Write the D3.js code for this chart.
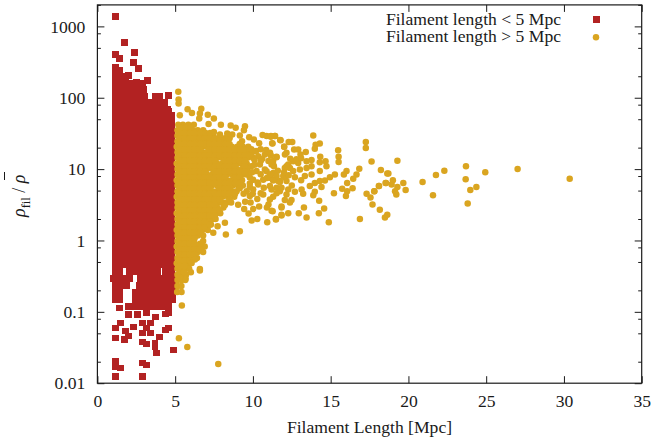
<!DOCTYPE html>
<html>
  <head>
    <meta charset="utf-8">
    <title>Filament density</title>
    <script src="https://d3js.org/d3.v7.min.js"></script>
    <style>
      html, body { margin: 0; padding: 0; background: #fff; }
      text { font-family: "Liberation Serif", serif; fill: #1a1a1a; }
    </style>
  </head>
  <body>
    <script>
        var xTicks = [0, 5, 10, 15, 20, 25, 30, 35];
        var yTicks = [0.01, 0.1, 1, 10, 100, 1000];
        var yTickLabels = ["0.01", "0.1", "1", "10", "100", "1000"];
        var yMinorFactors = [2, 5, 8];
        var legendLabels = ["Filament length < 5 Mpc", "Filament length > 5 Mpc"];

        // short filaments, the solid block: one density per row, lengths in that row
        var redRowDensity = [270, 243, 197, 160, 130, 105, 85, 69, 56, 45.6, 37, 30, 24.3, 19.7, 16, 13, 10.5, 8.55, 6.9, 5.6, 4.56, 3.7, 3, 2.43, 1.97, 1.6, 1.3, 1.05, 0.855, 0.693, 0.562, 0.456, 0.37, 0.295, 0.235, 0.187, 0.149, 0.118];
        var redRowLengths = [
            [1.17],
            [1.17, 1.45],
            [1.15, 1.5, 1.8],
            [1.15, 1.5, 1.9, 2.25, 2.55, 2.9],
            [1.15, 1.55, 1.95, 2.3, 2.7, 3.0],
            [1.15, 1.55, 1.95, 2.35, 2.7, 3.05, 3.76, 4.02],
            [1.15, 1.55, 1.95, 2.35, 2.75, 3.15, 3.55, 3.95, 4.3],
            [1.15, 1.55, 1.95, 2.35, 2.75, 3.15, 3.55, 3.95, 4.35, 4.5],
            [1.16, 1.56, 1.96, 2.36, 2.76, 3.16, 3.56, 3.96, 4.36, 4.75],
            [1.15, 1.55, 1.95, 2.35, 2.75, 3.15, 3.55, 3.95, 4.35, 4.75],
            [1.17, 1.57, 1.97, 2.37, 2.77, 3.17, 3.57, 3.97, 4.37, 4.76],
            [1.15, 1.55, 1.94, 2.34, 2.74, 3.14, 3.54, 3.94, 4.34, 4.74],
            [1.16, 1.56, 1.96, 2.36, 2.76, 3.16, 3.56, 3.96, 4.36, 4.75],
            [1.15, 1.55, 1.95, 2.35, 2.75, 3.15, 3.55, 3.95, 4.35, 4.75],
            [1.17, 1.56, 1.95, 2.36, 2.77, 3.16, 3.55, 3.96, 4.37, 4.76],
            [1.15, 1.55, 1.95, 2.35, 2.75, 3.15, 3.55, 3.95, 4.35, 4.75],
            [1.16, 1.57, 1.96, 2.35, 2.76, 3.17, 3.56, 3.95, 4.36, 4.77],
            [1.15, 1.54, 1.95, 2.36, 2.75, 3.14, 3.55, 3.96, 4.35, 4.74],
            [1.17, 1.56, 1.96, 2.35, 2.76, 3.15, 3.56, 3.95, 4.36, 4.75],
            [1.15, 1.55, 1.95, 2.35, 2.75, 3.15, 3.55, 3.95, 4.35, 4.75],
            [1.16, 1.56, 1.94, 2.36, 2.74, 3.16, 3.54, 3.96, 4.34, 4.76],
            [1.15, 1.55, 1.95, 2.35, 2.75, 3.15, 3.55, 3.95, 4.35, 4.75],
            [1.17, 1.57, 1.96, 2.37, 2.76, 3.17, 3.56, 3.97, 4.36, 4.77],
            [1.15, 1.55, 1.95, 2.35, 2.75, 3.15, 3.55, 3.95, 4.35, 4.75],
            [1.16, 1.55, 1.96, 2.35, 2.76, 3.15, 3.56, 3.95, 4.36, 4.75],
            [1.15, 1.56, 1.95, 2.36, 2.75, 3.16, 3.55, 3.96, 4.35, 4.76],
            [1.17, 1.55, 1.94, 2.35, 2.74, 3.15, 3.54, 3.95, 4.34, 4.75],
            [1.15, 1.57, 1.96, 2.37, 2.76, 3.17, 3.56, 3.97, 4.36, 4.77],
            [1.16, 1.55, 1.95, 2.35, 2.75, 3.15, 3.55, 3.95, 4.35, 4.75],
            [1.15, 1.56, 1.95, 2.36, 2.75, 3.16, 3.55, 3.96, 4.35, 4.76],
            [1.15, 1.55, 1.95, 2.35, 2.75, 3.15, 3.55, 3.95, 4.35, 4.75],
            [1.15, 1.55, 1.95, 2.35, 2.75, 3.15, 3.55, 3.95, 4.35, 4.75],
            [1.15, 1.4, 2.05, 2.4, 2.75, 3.1, 3.5, 3.9, 4.35, 4.75],
            [1.0, 1.35, 1.75, 2.05, 2.75, 3.15, 3.5, 3.8, 4.2, 4.6, 4.85],
            [1.15, 1.45, 1.85, 2.7, 3.05, 3.4, 3.7, 4.0, 4.3, 4.6, 4.85],
            [1.15, 1.45, 2.45, 2.8, 3.2, 3.5, 3.85, 4.2, 4.55, 4.85],
            [1.15, 1.45, 2.45, 2.8, 3.1, 3.5, 3.9, 4.2, 4.6, 4.85],
            [2.0, 2.3, 2.7, 3.0, 3.3, 3.6, 4.0, 4.3, 4.6]
        ];
        // short filaments outside the block: [length, density]
        var redSparse = [
            [1.17, 1368], [1.75, 590], [2.39, 427], [1.17, 401], [1.4, 359], [2.3, 309], [2.62, 257], [1.98, 203],
            [3.2, 173], [2.52, 162], [4.55, 107], [4.6, 65],
            [1.15, 0.0125], [2.88, 0.0125], [1.15, 0.0202], [1.15, 0.0172], [1.47, 0.0163], [2.88, 0.0192], [3.14, 0.018],
            [4.88, 0.0292], [3.78, 0.0265], [3.7, 0.0366], [3.7, 0.0322], [3.98, 0.0445], [2.88, 0.0378], [3.14, 0.0355],
            [1.15, 0.043], [1.72, 0.0407], [1.98, 0.0459], [2.88, 0.0506], [3.4, 0.0506], [1.79, 0.054], [1.15, 0.0594],
            [1.47, 0.0698], [2.3, 0.0614], [2.88, 0.0698], [3.4, 0.0698], [3.14, 0.0594], [4.55, 0.0594], [4.36, 0.0557],
            [3.72, 0.0847], [1.98, 0.0906], [2.56, 0.0906], [1.4, 0.1135], [3.14, 0.0966], [4.36, 0.0933], [4.55, 0.0966]
        ];

        // long filaments, dense part: same layout as the red rows
        var goldRowDensity = [42, 35, 29.4, 24.6, 20.6, 17.2, 14.4, 12, 10, 8.4, 7, 5.9, 4.9, 4.1, 3.4, 2.9, 2.4, 2, 1.67, 1.4, 1.17, 0.98, 0.82, 0.69, 0.57, 0.48, 0.4, 0.33, 0.28, 0.23, 0.19];
        var goldRowLengths = [
            [5.2, 5.5, 5.85, 6.2],
            [5.15, 5.5, 5.8, 6.1, 6.45, 6.8],
            [5.15, 5.45, 5.8, 6.1, 6.4, 6.75, 7.05, 7.45],
            [5.15, 5.45, 5.8, 6.1, 6.4, 6.75, 7.05, 7.4, 7.7, 8.0, 8.35, 9.3],
            [5.1, 5.45, 5.8, 6.1, 6.4, 6.75, 7.05, 7.4, 7.7, 8.05, 8.35, 8.65, 9.0, 9.35, 9.7],
            [5.15, 5.45, 5.8, 6.1, 6.45, 6.75, 7.05, 7.4, 7.7, 8.0, 8.35, 8.65, 9.0, 9.3, 9.6, 9.95],
            [5.15, 5.5, 5.8, 6.1, 6.4, 6.75, 7.1, 7.4, 7.7, 8.0, 8.3, 8.65, 9.0, 9.3, 9.65, 10.0],
            [5.1, 5.45, 5.75, 6.1, 6.4, 6.75, 7.05, 7.35, 7.7, 8.05, 8.35, 8.7, 9.0, 9.3, 9.6],
            [5.15, 5.45, 5.8, 6.1, 6.45, 6.75, 7.05, 7.4, 7.7, 8.0, 8.35, 8.65, 8.95, 9.3, 9.65],
            [5.15, 5.5, 5.8, 6.15, 6.4, 6.7, 7.05, 7.4, 7.75, 8.0, 8.3, 8.65, 9.0, 9.35, 9.6],
            [5.1, 5.45, 5.8, 6.1, 6.45, 6.75, 7.1, 7.4, 7.7, 8.05, 8.35, 8.65, 9.0, 9.3],
            [5.15, 5.45, 5.8, 6.1, 6.4, 6.75, 7.05, 7.35, 7.7, 8.0, 8.35, 8.7, 9.05, 9.35],
            [5.15, 5.5, 5.75, 6.1, 6.4, 6.75, 7.05, 7.4, 7.7, 8.0, 8.3, 8.65, 8.95, 9.6],
            [5.1, 5.45, 5.8, 6.15, 6.45, 6.75, 7.05, 7.4, 7.7, 8.05, 8.4, 8.8],
            [5.15, 5.45, 5.8, 6.1, 6.4, 6.7, 7.05, 7.4, 7.75, 8.0, 8.3, 8.6],
            [5.15, 5.5, 5.8, 6.1, 6.45, 6.75, 7.1, 7.4, 7.7, 8.1],
            [5.1, 5.45, 5.75, 6.1, 6.4, 6.75, 7.05, 7.35, 7.65, 7.9],
            [5.15, 5.45, 5.8, 6.15, 6.4, 6.75, 7.05, 7.4, 7.6],
            [5.15, 5.5, 5.8, 6.1, 6.45, 6.7, 7.0, 7.3],
            [5.1, 5.45, 5.8, 6.1, 6.4, 6.75, 7.1],
            [5.15, 5.45, 5.75, 6.1, 6.45, 6.8],
            [5.15, 5.5, 5.8, 6.15, 6.8],
            [5.1, 5.45, 5.8, 6.1, 6.4, 6.7, 6.9],
            [5.15, 5.45, 5.75, 6.1, 6.45, 6.8],
            [5.15, 5.5, 5.8, 6.1, 6.4],
            [5.1, 5.45, 5.75, 6.0],
            [5.15, 5.45, 5.7, 5.9],
            [5.15, 5.45, 5.7],
            [5.15, 5.4, 5.65],
            [5.15, 5.4],
            [5.13, 5.41]
        ];
        // long filaments between those rows, they close the gaps in the solid area
        var goldFillDensity = [38, 32, 27, 22.5, 18.8, 15.7, 13.1, 11, 9.2, 7.7, 6.4, 5.4, 4.5, 3.75, 3.15, 2.65, 2.2, 1.83, 1.53, 1.28, 1.07, 0.9, 0.75, 0.63, 0.52, 0.44, 0.36];
        var goldFillLengths = [
            [5.3, 5.65, 6.0],
            [5.3, 5.6, 5.95, 6.25, 6.6, 6.95, 7.25],
            [5.3, 5.6, 5.95, 6.25, 6.6, 6.9, 7.2, 7.55, 7.85, 8.2, 8.5],
            [5.3, 5.6, 5.95, 6.25, 6.6, 6.9, 7.2, 7.55, 7.85, 8.2, 8.5, 9.15],
            [5.3, 5.6, 5.95, 6.25, 6.6, 7.2, 7.55, 7.85, 8.2, 8.5, 8.85, 9.15, 9.45, 9.8],
            [5.3, 5.6, 5.95, 6.25, 6.6, 6.9, 7.2, 7.55, 7.85, 8.2, 8.5, 8.85, 9.15, 9.45, 9.8],
            [5.3, 5.6, 5.95, 6.25, 6.6, 6.9, 7.2, 7.55, 8.2, 8.5, 8.85, 9.15, 9.45],
            [5.3, 5.6, 5.95, 6.25, 6.6, 6.9, 7.2, 7.55, 7.85, 8.2, 8.5, 8.85, 9.45],
            [5.3, 5.6, 5.95, 6.25, 6.6, 6.9, 7.55, 7.85, 8.2, 8.5, 8.85, 9.15, 9.45],
            [5.3, 5.6, 5.95, 6.25, 6.6, 6.9, 7.2, 7.55, 7.85, 8.2, 8.85, 9.15],
            [5.3, 5.6, 5.95, 6.25, 6.6, 6.9, 7.2, 7.55, 7.85, 8.2, 8.5, 8.85, 9.15],
            [5.3, 5.6, 5.95, 6.25, 6.6, 6.9, 7.2, 7.85, 8.2, 8.5, 9.15],
            [5.3, 5.6, 5.95, 6.25, 6.6, 6.9, 7.2, 7.55, 7.85, 8.2, 8.5, 8.85],
            [5.3, 5.6, 5.95, 6.25, 6.6, 6.9, 7.2, 7.55, 7.85, 8.5],
            [5.3, 5.6, 5.95, 6.25, 6.6, 6.9, 7.2, 7.55, 8.2],
            [5.3, 5.6, 5.95, 6.25, 6.6, 6.9, 7.2, 7.55, 7.85],
            [5.3, 5.6, 5.95, 6.25, 6.6, 6.9, 7.2, 7.55],
            [5.3, 5.6, 5.95, 6.25, 6.6, 6.9, 7.2],
            [5.3, 5.6, 5.95, 6.25, 6.6, 6.9],
            [5.3, 5.6, 5.95, 6.25, 6.6],
            [5.3, 5.6, 5.95, 6.25],
            [5.3, 5.6, 5.95, 6.25, 6.6],
            [5.3, 5.6, 5.95, 6.25, 6.6],
            [5.3, 5.6, 5.95, 6.25],
            [5.3, 5.6, 5.95],
            [5.3, 5.6],
            [5.3, 5.55]
        ];
        // long filaments outside the dense part: [length, density]
        var goldSparse = [
            [5.2, 121], [5.22, 94.6], [5.22, 83], [5.8, 69], [6.08, 61], [6.68, 70], [6.59, 60], [6.55, 51], [7.1, 58], [7.49, 51],
            [7.94, 42], [8.57, 41], [8.89, 38], [9.49, 40], [9.42, 35], [10.62, 30], [10.88, 29], [11.16, 29], [11.43, 29],
            [11.78, 25.4], [11.24, 23], [12.01, 20.6], [12.3, 24], [7.15, 43], [5.3, 57], [7.49, 33], [7.88, 30.5], [8.35, 31.6],
            [8.67, 30.5], [9.16, 29.6], [9.76, 28], [10.06, 26], [10.4, 23],
            [6.59, 0.398], [9.16, 1.35], [8.26, 1.21], [8.2, 1.77], [10.92, 1.8], [11.48, 1.96], [11.84, 2.24], [11.27, 2.57],
            [9.92, 1.9], [10.28, 2.0], [9.72, 2.38], [10.02, 2.77], [9.44, 2.77], [9.05, 3.16], [7.45, 1.28], [7.73, 1.58], [7.23, 1.66],
            [6.27, 0.54], [6.06, 0.485], [5.43, 0.123], [5.24, 0.0425], [5.78, 0.0322], [7.77, 0.0186], [6.59, 0.378], [6.01, 0.358],
            [5.67, 0.29], [5.3, 0.3],
            [13.88, 29.6], [11.41, 29], [11.15, 28.4], [11.75, 25.5], [11.26, 22.8], [12.53, 23.9], [14.3, 22.8], [14.03, 22],
            [17.26, 23.9], [17.26, 19.7], [15.48, 18.4], [13.98, 19.3], [12.01, 20.5], [12.65, 18.9], [13.4, 17.3], [12.91, 18.9],
            [12.16, 16.9], [11.52, 14.9], [11.15, 15.5], [13.06, 16], [15.51, 14.9], [15.51, 12.6], [14.33, 14.9], [14.3, 12.5],
            [14.67, 12.9], [14.73, 11], [17.63, 12.8], [13.77, 13.4], [13.45, 12.9], [12.59, 12.9], [12.91, 12.2], [12.27, 11.6],
            [12.05, 10.4], [12.38, 10.4], [12.59, 9.4], [13.02, 9.9], [13.45, 10.4], [13.77, 11], [11.2, 11.6], [11.35, 11],
            [16.84, 10.1], [18.23, 9.7], [18.64, 8.7], [16.02, 9.4], [15.85, 8.4], [15.27, 8.4], [14.95, 7.7], [14.3, 9.4],
            [13.77, 8.4], [13.34, 8], [16.66, 8.4], [16.45, 7.3], [16.06, 6.4], [14.63, 6.9], [14.3, 6.8], [13.98, 6.4], [14.41, 5.6],
            [13.66, 5.8], [12.16, 6.8], [11.73, 6.8], [11.41, 7.2], [11.15, 7.5], [11.52, 5.5], [12.27, 5.2], [12.7, 4.8], [13.13, 5.2],
            [13.23, 4.5], [13.98, 4.8], [13.88, 4.3], [15.21, 4.6], [15.74, 5.3], [16.06, 4.9], [16.41, 5.4], [15.98, 4.2], [17.31, 4.5],
            [17.56, 4], [17.8, 4.9], [18.1, 5.8], [18.53, 6.4], [17.69, 3.2], [18.16, 2.7], [18.64, 2.3], [18.49, 2.1], [16.88, 2],
            [14.88, 1.8], [14.26, 3.6], [14.58, 2.8], [14.24, 2.4], [13.45, 2.1], [13.28, 2.9], [12.95, 2.4], [12.38, 3.4], [11.84, 2.9],
            [11.84, 2.3], [11.48, 2], [11.2, 2.6], [12.05, 3.7], [12.48, 3.7], [11.3, 4.1], [11.73, 4.9], [11.2, 5.2],
            [19.29, 13.06], [19.67, 6.4], [19.82, 5.1], [19.14, 4.9], [19.22, 4.4], [19.29, 5.6], [19, 7], [18.92, 6.1], [18.56, 6.4],
            [18.11, 5.8], [17.81, 4.9], [18.71, 8.7], [20.91, 6.6], [21.58, 4.3], [21.77, 8.3], [22.31, 9.5], [23.7, 11], [23.68, 7.2],
            [24.94, 9.05], [24.37, 5.6], [23.98, 5.1], [23.81, 3.3], [27.02, 10], [30.37, 7.3],
            [11.09, 3.75], [10.66, 4.4], [10.28, 3.8], [9.8, 4.2], [11.52, 4.6], [11.84, 5.5], [12.16, 4.4], [11.09, 5.8], [10.34, 6.1],
            [10.02, 5.2], [11.63, 6.8], [10.66, 7.1], [10.02, 7.1], [11.3, 8.8], [11.95, 8], [10.88, 9.3], [11.84, 3], [12.27, 2.4],
            [11.52, 14.7], [12.06, 16], [12.16, 11], [11.3, 11.6], [10.77, 16], [10.34, 15.2], [10.45, 11.6], [10.77, 9.9],
            [11.52, 8], [11.09, 8.4], [12.06, 7.6], [10.23, 9.4], [11.73, 6.6], [9.8, 7.6], [9.9, 11], [10.1, 13.5], [10.5, 13],
            [9.9, 19], [10.2, 18], [10.5, 19], [10.85, 18.5], [11.1, 17], [10.6, 14], [11, 13], [11.3, 13], [10.1, 11.5], [9.95, 9],
            [10.5, 8.5], [10.9, 7.5], [10.3, 6.5], [10.7, 5.5], [11.3, 6.9], [9.8, 5.6], [10, 4.5], [10.5, 4.6], [11, 3.2], [9.85, 3.4],
            [10.4, 3], [10.9, 2.9], [9.5, 3.5], [9.4, 4.5], [9.8, 6.3], [12.4, 14], [12.8, 13.8], [13.1, 14.2], [12.3, 8.2], [12.7, 7.7],
            [13.1, 7], [11.6, 9.5], [12, 9], [12.5, 5.9]
        ];

        var width = 652;
        var height = 441;
        var svg = d3.select("body").append("svg")
            .attr("width", width)
            .attr("height", height)
            .style("display", "block")
        ;

        var xScale = d3.scaleLinear().domain([0, 35]).range([97.4, 641.7]);
        var yScale = d3.scaleLog().domain([0.01, 2000]).range([383.2, 4.9]);

        function flatten(rowDensity, rowLengths) {
            var points = [];
            rowDensity.forEach((d, i) => {
                rowLengths[i].forEach((l) => { points.push([l, d]); });
            });
            return points;
        }
        var redPoints = flatten(redRowDensity, redRowLengths).concat(redSparse);
        var goldPoints = flatten(goldRowDensity, goldRowLengths)
            .concat(flatten(goldFillDensity, goldFillLengths))
            .concat(goldSparse);

        var red = "#b22222";
        var gold = "#daa520";
        var ink = "#1a1a1a";
        var squareSize = 6.8;
        var dotRadius = 3.25;

        svg.selectAll("rect.short")
            .data(redPoints)
            .enter()
            .append("rect")
            .classed("short", true)
            .attr("x", (d) => { return xScale(d[0]) - squareSize / 2; })
            .attr("y", (d) => { return yScale(d[1]) - squareSize / 2; })
            .attr("width", squareSize)
            .attr("height", squareSize)
            .attr("fill", red)
            .attr("shape-rendering", "crispEdges")
        ;
        svg.selectAll("circle.long")
            .data(goldPoints)
            .enter()
            .append("circle")
            .classed("long", true)
            .attr("cx", (d) => { return xScale(d[0]); })
            .attr("cy", (d) => { return yScale(d[1]); })
            .attr("r", dotRadius)
            .attr("fill", gold)
        ;

        // axes: ticks point inwards on all four sides, frame drawn by hand
        var yMinor = [];
        yTicks.forEach((t) => {
            yMinorFactors.forEach((f) => {
                if (t * f <= 2000) yMinor.push(t * f);
            });
        });

        function styleAxis(g) {
            g.select(".domain").remove();
            g.selectAll("line").attr("stroke", ink).attr("stroke-width", 1);
            g.selectAll("text").attr("font-size", 17.6).style("fill", ink);
        }

        svg.append("g")
            .attr("transform", "translate(0," + yScale.range()[0] + ")")
            .call(d3.axisBottom(xScale).tickValues(xTicks).tickFormat(d3.format("d")).tickSizeInner(-7).tickPadding(11.5))
            .call(styleAxis)
        ;
        svg.append("g")
            .attr("transform", "translate(0," + yScale.range()[1] + ")")
            .call(d3.axisTop(xScale).tickValues(xTicks).tickFormat("").tickSizeInner(-7))
            .call(styleAxis)
        ;
        svg.append("g")
            .attr("transform", "translate(" + xScale.range()[0] + ",0)")
            .call(d3.axisLeft(yScale).tickValues(yTicks).tickFormat((d, i) => { return yTickLabels[i]; }).tickSizeInner(-7).tickPadding(12))
            .call(styleAxis)
        ;
        svg.append("g")
            .attr("transform", "translate(" + xScale.range()[1] + ",0)")
            .call(d3.axisRight(yScale).tickValues(yTicks).tickFormat("").tickSizeInner(-7))
            .call(styleAxis)
        ;
        svg.append("g")
            .attr("transform", "translate(" + xScale.range()[0] + ",0)")
            .call(d3.axisLeft(yScale).tickValues(yMinor).tickFormat("").tickSizeInner(-3.5))
            .call(styleAxis)
        ;
        svg.append("g")
            .attr("transform", "translate(" + xScale.range()[1] + ",0)")
            .call(d3.axisRight(yScale).tickValues(yMinor).tickFormat("").tickSizeInner(-3.5))
            .call(styleAxis)
        ;

        svg.append("rect")
            .attr("x", xScale.range()[0])
            .attr("y", yScale.range()[1])
            .attr("width", xScale.range()[1] - xScale.range()[0])
            .attr("height", yScale.range()[0] - yScale.range()[1])
            .attr("fill", "none")
            .attr("stroke", ink)
            .attr("stroke-width", 1.2)
        ;

        svg.append("text")
            .attr("x", 369.5)
            .attr("y", 433)
            .attr("text-anchor", "middle")
            .attr("font-size", 17.6)
            .text("Filament Length [Mpc]")
        ;

        // y title with subscript, the bar over the second rho is a short line
        var yTitle = svg.append("text")
            .attr("transform", "translate(25,217) rotate(-90)")
            .attr("font-size", 18)
        ;
        yTitle.append("tspan").attr("font-style", "italic").text("ρ");
        yTitle.append("tspan").attr("font-size", 12.5).attr("dy", 5).text("fil");
        yTitle.append("tspan").attr("dy", -5).text(" / ");
        yTitle.append("tspan").attr("font-style", "italic").text("ρ");
        svg.append("line")
            .attr("x1", 4.5)
            .attr("x2", 4.5)
            .attr("y1", 172)
            .attr("y2", 180)
            .attr("stroke", ink)
            .attr("stroke-width", 1)
        ;

        // legend, lines a little closer than the font height as in the original
        legendLabels.forEach((label, i) => {
            svg.append("text")
                .attr("x", 561)
                .attr("y", 25 + i * 17)
                .attr("text-anchor", "end")
                .attr("font-size", 17.6)
                .text(label)
            ;
        });
        svg.append("rect")
            .attr("x", 596.5 - squareSize / 2)
            .attr("y", 19.5 - squareSize / 2)
            .attr("width", squareSize)
            .attr("height", squareSize)
            .attr("fill", red)
            .attr("shape-rendering", "crispEdges")
        ;
        svg.append("circle")
            .attr("cx", 596)
            .attr("cy", 37.3)
            .attr("r", dotRadius)
            .attr("fill", gold)
        ;
    </script>
  </body>
</html>
